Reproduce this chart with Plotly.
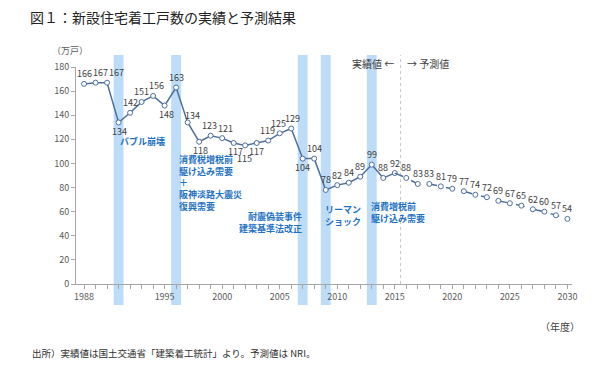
import plotly.graph_objects as go

# ---- data ----
actual_years = list(range(1988, 2016))
actual_values = [166, 167, 167, 134, 142, 151, 156, 148, 163, 134, 118, 123, 121, 117,
                 115, 117, 119, 125, 129, 104, 104, 78, 82, 84, 89, 99, 88, 92]
forecast_years = list(range(2016, 2031))
forecast_values = [88, 83, 83, 81, 79, 77, 74, 72, 69, 67, 65, 62, 60, 57, 54]
event_years = [1991, 1996, 2007, 2009, 2013]
x_label_years = [1988, 1995, 2000, 2005, 2010, 2015, 2020, 2025, 2030]
y_ticks = list(range(0, 181, 20))

# ---- style ----
FONT = "Noto Sans CJK JP"
LINE = "#4d6f9f"
BAND = "#bddcf8"
EVENT_TXT = "#1f72c4"
GRAY = "#595959"

# label placement (pixel shifts), style only
below_years = {1991, 1995, 1998, 2001, 2002, 2003, 2007}
label_dx = {1989: 5, 1990: 9, 1991: 1, 1994: 3, 1995: 2, 1997: 5, 1998: 1, 1999: -1,
            2000: 3, 2001: 2, 2002: -1, 2004: -1, 2005: -1, 2006: 1}
label_dy = {1997: 7, 2002: -13}

fig = go.Figure()

fig.add_trace(go.Scatter(
    x=actual_years, y=actual_values, mode="lines+markers",
    line=dict(color=LINE, width=1.5),
    marker=dict(symbol="circle", size=5, color="white", line=dict(color=LINE, width=1)),
    showlegend=False))
fig.add_trace(go.Scatter(
    x=[actual_years[-1]] + forecast_years, y=[actual_values[-1]] + forecast_values,
    mode="lines", line=dict(color=LINE, width=1.5, dash="dash"), showlegend=False))
fig.add_trace(go.Scatter(
    x=forecast_years, y=forecast_values, mode="markers",
    marker=dict(symbol="circle", size=5, color="white", line=dict(color=LINE, width=1)),
    showlegend=False))

ann = []
for yr, v in list(zip(actual_years, actual_values)) + list(zip(forecast_years, forecast_values)):
    if yr in label_dy:
        ys = label_dy[yr]
    elif yr in below_years:
        ys = -9
    else:
        ys = 10
    ann.append(dict(text=str(v), x=yr, y=v, xref="x", yref="y", xshift=label_dx.get(yr, 0),
                    yshift=ys, showarrow=False, xanchor="center", yanchor="middle",
                    font=dict(family=FONT, size=9, color="#404040")))

shapes = []
for yr in event_years:
    shapes.append(dict(type="rect", xref="x", yref="paper", x0=yr - 0.43, x1=yr + 0.43,
                       y0=-0.097, y1=1.055, fillcolor=BAND, line=dict(width=0), layer="below"))
shapes.append(dict(type="line", xref="x", yref="paper", x0=2015.5, x1=2015.5, y0=0, y1=1.055,
                   line=dict(color="#c8c8c8", width=1, dash="dot"), layer="below"))

def ev(text, x, y, xanchor, align):
    ann.append(dict(text=text, x=x, y=y, xref="x", yref="y", xanchor=xanchor, yanchor="middle",
                    align=align, showarrow=False,
                    font=dict(family=FONT, size=9, color=EVENT_TXT, weight="bold")))

ev("バブル崩壊", 1990.95, 118.6, "left", "left")
ev("消費税増税前<br>駆け込み需要<br>＋<br>阪神淡路大震災<br>復興需要", 1996.1, 83.4, "left", "left")
ev("耐震偽装事件<br>建築基準法改正", 2007.15, 51.4, "right", "right")
ev("リーマン<br>ショック", 2008.78, 56.8, "left", "left")
ev("消費増税前<br>駆け込み需要", 2012.78, 59.3, "left", "left")

ann.append(dict(text="実績値 ←", x=2015.1, y=1.018, xref="x", yref="paper", xanchor="right",
                yanchor="middle", showarrow=False, font=dict(family=FONT, size=10, color="#404040")))
ann.append(dict(text="→ 予測値", x=2015.9, y=1.018, xref="x", yref="paper", xanchor="left",
                yanchor="middle", showarrow=False, font=dict(family=FONT, size=10, color="#404040")))
ann.append(dict(text="（万戸）", x=-0.012, y=1.074, xref="paper", yref="paper", xanchor="center",
                yanchor="middle", showarrow=False, font=dict(family=FONT, size=9, color=GRAY)))
ann.append(dict(text="（年度）", x=0.976, y=-0.194, xref="paper", yref="paper", xanchor="center",
                yanchor="middle", showarrow=False, font=dict(family=FONT, size=10, color="#404040")))
ann.append(dict(text="出所）実績値は国土交通省「建築着工統計」より。予測値は NRI。", x=-0.093, y=-0.318,
                xref="paper", yref="paper", xanchor="left", yanchor="middle", showarrow=False,
                font=dict(family=FONT, size=9.5, color="#303030")))

all_years = list(range(1988, 2031))
tick_text = [str(y) if y in x_label_years else "" for y in all_years]

# page body adds an 8px offset; margins compensate for it
fig.update_layout(
    width=600, height=368,
    margin=dict(l=68, r=36, t=59, b=92, autoexpand=False),
    paper_bgcolor="white", plot_bgcolor="white",
    font=dict(family=FONT),
    title=dict(text="図１：新設住宅着工戸数の実績と予測結果", x=22 / 600, xref="container",
               xanchor="left", y=1 - 10 / 368, yref="container", yanchor="middle",
               font=dict(family=FONT, size=14, color="#222222")),
    shapes=shapes, annotations=ann,
    xaxis=dict(range=[1987.3, 2030.4], tickvals=all_years, ticktext=tick_text,
               ticks="outside", ticklen=4, tickcolor="#a6a6a6", showline=True,
               linecolor="#a6a6a6", linewidth=1, showgrid=False, zeroline=False,
               automargin=False, tickfont=dict(family=FONT, size=9, color=GRAY)),
    yaxis=dict(range=[0, 180], tickvals=y_ticks, ticks="outside", ticklen=4,
               tickcolor="#a6a6a6", showline=True, linecolor="#a6a6a6", linewidth=1,
               showgrid=False, zeroline=False, automargin=False,
               tickfont=dict(family=FONT, size=9, color=GRAY)),
)

fig.write_html("out.html")
